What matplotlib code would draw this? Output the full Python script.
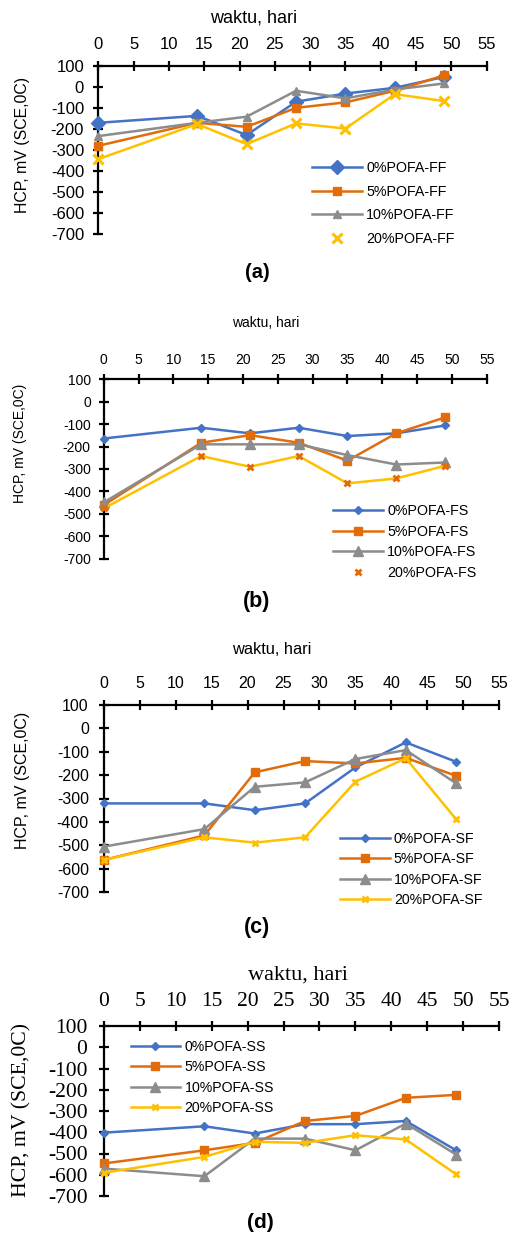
import matplotlib
matplotlib.use('Agg')
import matplotlib.pyplot as plt
from matplotlib.lines import Line2D

plt.rcParams['axes.unicode_minus'] = False

W, H = 509, 1234

days = [0, 14, 21, 28, 35, 42, 49]

# (a) FF
ff_0 = [-171, -138, -229, -71, -32, -5, 47]
ff_5 = [-280, -171, -190, -100, -74, -19, 55]
ff_10 = [-234, -171, -142, -19, -55, -13, 16]
ff_20 = [-343, -177, -272, -174, -198, -35, -68]

# (b) FS
fs_0 = [-164, -116, -141, -116, -153, -141, -106]
fs_5 = [-461, -183, -149, -183, -263, -141, -70]
fs_10 = [-449, -190, -190, -190, -238, -280, -271]
fs_20 = [-476, -242, -290, -242, -364, -342, -286]

# (c) SF
sf_0 = [-321, -321, -350, -321, -167, -60, -143]
sf_5 = [-563, -458, -188, -140, -150, -126, -203]
sf_10 = [-506, -431, -250, -231, -131, -93, -235]
sf_20 = [-563, -466, -489, -466, -228, -128, -389]

# (d) SS
ss_0 = [-402, -372, -406, -362, -362, -347, -485]
ss_5 = [-547, -485, -450, -347, -323, -238, -224]
ss_10 = [-571, -607, -430, -430, -485, -359, -505]
ss_20 = [-591, -516, -445, -450, -414, -434, -598]

percents = ['0%POFA', '5%POFA', '10%POFA', '20%POFA']

BLUE = '#4472C4'
ORANGE = '#E36C0A'
GRAY = '#8C8C8C'
YELLOW = '#FFC000'

SANS = 'Liberation Sans'
SERIF = 'Liberation Serif'


def px(x0, x55, ytop, ybot):
    return [x0 / W, 1 - ybot / H, (x55 - x0) / W, (ybot - ytop) / H]


def make_axes(fig, box, font, tick_fs, xpad, ypad):
    ax = fig.add_axes(box)
    ax.set_xlim(0, 55)
    ax.set_ylim(-700, 100)
    ax.set_xticks(range(0, 56, 5))
    ax.set_yticks(range(-700, 101, 100))
    ax.xaxis.tick_top()
    ax.spines['right'].set_visible(False)
    ax.spines['bottom'].set_visible(False)
    for s in ['left', 'top']:
        ax.spines[s].set_linewidth(1.6)
        ax.spines[s].set_color('black')
    ax.tick_params(axis='both', direction='inout', length=7.5, width=1.6, colors='black')
    ax.tick_params(axis='x', pad=xpad)
    ax.tick_params(axis='y', pad=ypad)
    for lab in ax.get_xticklabels() + ax.get_yticklabels():
        lab.set_fontfamily(font)
        lab.set_fontsize(tick_fs)
    ax.patch.set_alpha(0)
    return ax


def draw_series(ax, series, styles):
    for vals, st in zip(series, styles):
        ax.plot(days, vals, color=st['color'], marker=st['marker'], markersize=st['ms'],
                markerfacecolor=st.get('mc', st['color']), markeredgecolor=st.get('mc', st['color']),
                markeredgewidth=st.get('mew', 1), linewidth=1.8, clip_on=False, zorder=3)


def add_legend(ax, handles, labels, x, y, fs, spacing):
    ax.legend(handles, labels, loc='upper left', bbox_to_anchor=(x / W, 1 - y / H),
              bbox_transform=ax.figure.transFigure, frameon=False, borderpad=0,
              borderaxespad=0, handlelength=3.5, handletextpad=0.3, labelspacing=spacing,
              prop={'family': SANS, 'size': fs})


fig = plt.figure(figsize=(W / 100, H / 100), dpi=100)

# ---------------- (a)
ax = make_axes(fig, px(98.3, 486.7, 65.7, 234.3), SANS, 12, 6, 6.5)
sty = [dict(color=BLUE, marker='D', ms=7),
       dict(color=ORANGE, marker='s', ms=5.5),
       dict(color=GRAY, marker='^', ms=6),
       dict(color=YELLOW, marker='x', ms=7, mew=2.2)]
draw_series(ax, [ff_0, ff_5, ff_10, ff_20], sty)
hd = [Line2D([], [], color=BLUE, marker='D', ms=7, lw=1.8),
      Line2D([], [], color=ORANGE, marker='s', ms=5.5, lw=1.8),
      Line2D([], [], color=GRAY, marker='^', ms=6, lw=1.8),
      Line2D([], [], color=YELLOW, marker='x', ms=7, mew=2.2, ls='None')]
add_legend(ax, hd, [p + '-FF' for p in percents], 311.7, 161, 10.3, 0.68)
fig.text(254 / W, 1 - 18 / H, 'waktu, hari', ha='center', va='center', family=SANS, fontsize=13)
fig.text(23 / W, 1 - 145 / H, 'HCP, mV (SCE,0C)', ha='center', va='center', rotation=90,
         family=SANS, fontsize=11.4)
fig.text(257 / W, 1 - 273 / H, '(a)', ha='center', va='center', family=SANS,
         fontweight='bold', fontsize=14.5)

# ---------------- (b)
ax = make_axes(fig, px(103.7, 486.7, 379.3, 558.7), SANS, 10, 5, 5.5)
sty = [dict(color=BLUE, marker='D', ms=4.5),
       dict(color=ORANGE, marker='s', ms=6),
       dict(color=GRAY, marker='^', ms=7.5),
       dict(color=YELLOW, marker='x', ms=5, mew=2, mc=ORANGE)]
draw_series(ax, [fs_0, fs_5, fs_10, fs_20], sty)
hd = [Line2D([], [], color=BLUE, marker='D', ms=4.5, lw=1.8),
      Line2D([], [], color=ORANGE, marker='s', ms=6, lw=1.8),
      Line2D([], [], color=GRAY, marker='^', ms=7.5, lw=1.8),
      Line2D([], [], color=ORANGE, marker='x', ms=5, mew=2, ls='None')]
add_legend(ax, hd, [p + '-FS' for p in percents], 332.7, 504, 10.3, 0.47)
fig.text(266 / W, 1 - 323 / H, 'waktu, hari', ha='center', va='center', family=SANS, fontsize=10)
fig.text(20 / W, 1 - 443 / H, 'HCP, mV (SCE,0C)', ha='center', va='center', rotation=90,
         family=SANS, fontsize=10)
fig.text(257 / W, 1 - 601.7 / H, '(b)', ha='center', va='center', family=SANS,
         fontweight='bold', fontsize=15.5)

# ---------------- (c)
ax = make_axes(fig, px(103.7, 499.3, 705, 892), SANS, 11.5, 6.5, 7)
sty = [dict(color=BLUE, marker='D', ms=4.5),
       dict(color=ORANGE, marker='s', ms=6),
       dict(color=GRAY, marker='^', ms=6.5),
       dict(color=YELLOW, marker='x', ms=5, mew=2)]
draw_series(ax, [sf_0, sf_5, sf_10, sf_20], sty)
hd = [Line2D([], [], color=BLUE, marker='D', ms=4.5, lw=1.8),
      Line2D([], [], color=ORANGE, marker='s', ms=6, lw=1.8),
      Line2D([], [], color=GRAY, marker='^', ms=6.5, lw=1.8),
      Line2D([], [], color=YELLOW, marker='x', ms=5, mew=2, lw=1.8)]
add_legend(ax, hd, [p + '-SF' for p in percents], 340, 832, 10.2, 0.45)
fig.text(272 / W, 1 - 649 / H, 'waktu, hari', ha='center', va='center', family=SANS, fontsize=11.8)
fig.text(23 / W, 1 - 780 / H, 'HCP, mV (SCE,0C)', ha='center', va='center', rotation=90,
         family=SANS, fontsize=11.5)
fig.text(257 / W, 1 - 928 / H, '(c)', ha='center', va='center', family=SANS,
         fontweight='bold', fontsize=15.5)

# ---------------- (d)
ax = make_axes(fig, px(103.7, 499.3, 1026, 1196), SERIF, 15.5, 7, 8)
sty = [dict(color=BLUE, marker='D', ms=4.5),
       dict(color=ORANGE, marker='s', ms=6),
       dict(color=GRAY, marker='^', ms=6.5),
       dict(color=YELLOW, marker='x', ms=5, mew=2)]
draw_series(ax, [ss_0, ss_5, ss_10, ss_20], sty)
hd = [Line2D([], [], color=BLUE, marker='D', ms=4.5, lw=1.8),
      Line2D([], [], color=ORANGE, marker='s', ms=6, lw=1.8),
      Line2D([], [], color=GRAY, marker='^', ms=6.5, lw=1.8),
      Line2D([], [], color=YELLOW, marker='x', ms=5, mew=2, lw=1.8)]
add_legend(ax, hd, [p + '-SS' for p in percents], 130.7, 1040, 10.2, 0.45)
fig.text(298 / W, 1 - 975 / H, 'waktu, hari', ha='center', va='center', family=SERIF, fontsize=16)
fig.text(22 / W, 1 - 1110 / H, 'HCP, mV (SCE,0C)', ha='center', va='center', rotation=90,
         family=SERIF, fontsize=15.7)
fig.text(260 / W, 1 - 1223 / H, '(d)', ha='center', va='center', family=SANS,
         fontweight='bold', fontsize=15)

fig.savefig('out.png', dpi=100)
